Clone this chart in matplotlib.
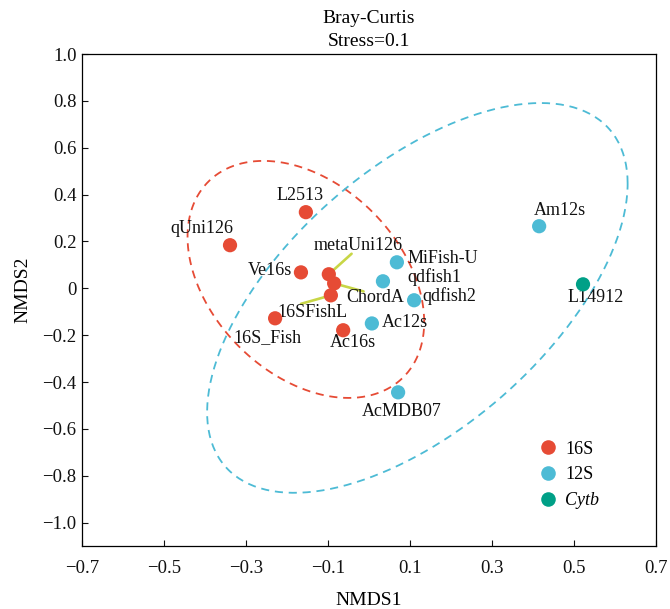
import numpy as np
import matplotlib
matplotlib.use("Agg")
import matplotlib.pyplot as plt
from matplotlib.lines import Line2D
from matplotlib.ticker import FuncFormatter

# NMDS scores
SAMPLES = ["L2513", "qUni126", "Ve16s", "metaUni126", "ChordA", "16SFishL",
           "16S_Fish", "Ac16s", "MiFish-U", "qdfish1", "qdfish2", "Ac12s",
           "AcMDB07", "Am12s", "L14912"]
GENE = ["16S"] * 8 + ["12S"] * 6 + ["Cytb"]
NMDS1 = [-0.154, -0.339, -0.166, -0.098, -0.085, -0.093, -0.229, -0.063,
         0.068, 0.034, 0.110, 0.007, 0.071, 0.415, 0.522]
NMDS2 = [0.325, 0.184, 0.068, 0.060, 0.021, -0.030, -0.128, -0.179,
         0.111, 0.030, -0.051, -0.150, -0.444, 0.265, 0.017]

GROUPS = ["16S", "12S", "Cytb"]
COLORS = {"16S": "#E64B35", "12S": "#4DBBD5", "Cytb": "#00A087"}

# group ellipses: centre and shape matrix (data units)
ELL_CENTER = {"16S": (-0.154, 0.038), "12S": (0.118, -0.041)}
ELL_SHAPE = {"16S": [[0.0833, -0.0525], [-0.0525, 0.2559]],
             "12S": [[0.2630, 0.2502], [0.2502, 0.6920]]}

plt.rcParams.update({
    "font.family": "serif",
    "font.serif": ["Liberation Serif", "DejaVu Serif"],
    "axes.linewidth": 0.9,
})

fig = plt.figure(figsize=(6.7, 6.09), dpi=100)
ax = fig.add_axes([0.1224, 0.1034, 0.8567, 0.8079])

# ellipses
t = np.linspace(0, 2 * np.pi, 300)
for g in ("16S", "12S"):
    L = np.linalg.cholesky(np.array(ELL_SHAPE[g]))
    pts = (L @ np.vstack([np.cos(t), np.sin(t)])).T + np.array(ELL_CENTER[g])
    ax.plot(pts[:, 0], pts[:, 1], color=COLORS[g], lw=1.3,
            dashes=(4.5, 3.2), zorder=2)

# label offsets in pixels (repel-style placement)
offsets = {
    "L2513": (-6, 17), "qUni126": (-28, 17), "Ve16s": (-31, 2),
    "metaUni126": (29, 29), "ChordA": (41, -14), "16SFishL": (-18, -17),
    "16S_Fish": (-8, -19), "Ac16s": (10, -12), "MiFish-U": (46, 4),
    "qdfish1": (51, 4), "qdfish2": (35, 4), "Ac12s": (33, 1),
    "AcMDB07": (4, -19), "Am12s": (21, 16), "L14912": (13, -13),
}
# which labels get a connector, and where on the label it attaches
connectors = {"metaUni126": (0.43, 0.0), "ChordA": (0.3, 0.85),
              "16SFishL": (0.33, 1.0)}

for name, x, y in zip(SAMPLES, NMDS1, NMDS2):
    dx, dy = offsets[name]
    kw = {}
    if name in connectors:
        kw["arrowprops"] = dict(arrowstyle="-", color="#c8d646", lw=1.9,
                                relpos=connectors[name], patchA=None,
                                shrinkA=0, shrinkB=4)
    ax.annotate(name, (x, y), xytext=(dx, dy), textcoords="offset pixels",
                ha="center", va="center", fontsize=13, color="#111111",
                zorder=3, **kw)

for g in GROUPS:
    xs = [x for x, gg in zip(NMDS1, GENE) if gg == g]
    ys = [y for y, gg in zip(NMDS2, GENE) if gg == g]
    ax.scatter(xs, ys, s=105, color=COLORS[g], edgecolors="none", zorder=4)

ax.set_xlim(-0.7, 0.7)
ax.set_ylim(-1.1, 1.0)
ax.set_xticks(np.arange(-0.7, 0.71, 0.2))
ax.set_yticks(np.arange(-1.0, 1.01, 0.2))
fmt = FuncFormatter(lambda v, p: "0" if abs(v) < 1e-9 else f"{v:.1f}".replace("-", "\u2212"))
ax.xaxis.set_major_formatter(fmt)
ax.yaxis.set_major_formatter(fmt)
ax.tick_params(direction="in", length=4.5, width=0.8, labelsize=13.5,
               colors="#111111")
ax.tick_params(axis="x", pad=10)
ax.tick_params(axis="y", pad=4)

ax.set_xlabel("NMDS1", fontsize=14, labelpad=11)
ax.set_ylabel("NMDS2", fontsize=14)
ax.yaxis.set_label_coords(-0.089, 0.52)
ax.set_title("Bray-Curtis\nStress=0.1", fontsize=14, pad=6, linespacing=1.45)

handles = [Line2D([], [], marker="o", ls="", markersize=10.5,
                  markerfacecolor=COLORS[g], markeredgecolor="none")
           for g in GROUPS]
leg = ax.legend(handles, GROUPS, loc="upper left", bbox_to_anchor=(0.796, 0.214),
                frameon=False, fontsize=13, handlelength=1.0, handletextpad=0.45,
                labelspacing=0.48, borderpad=0, borderaxespad=0)
leg.get_texts()[2].set_fontstyle("italic")

fig.savefig("out.png", dpi=100)
